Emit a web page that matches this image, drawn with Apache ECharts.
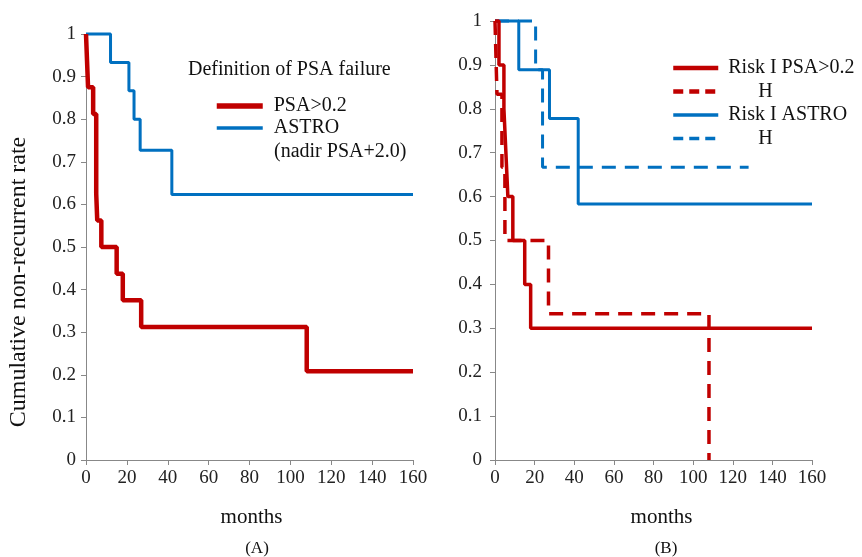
<!DOCTYPE html>
<html>
<head>
<meta charset="utf-8">
<script src="https://cdn.jsdelivr.net/npm/echarts@6/dist/echarts.min.js"></script>
<style>
html, body { margin: 0; padding: 0; background: #fff; }
#ct1 { width: 862px; height: 557px; }
</style>
</head>
<body>
<div id="ct1"></div>
<script>
// (A) definition of PSA failure
var monthsA_psa = [0, 0.5, 1, 3.5, 5, 5.5, 7.5, 15, 18, 27, 108, 160];
var rateA_psa = [1, 0.9375, 0.875, 0.8125, 0.625, 0.5625, 0.5, 0.4375, 0.375, 0.3125, 0.2083, 0.2083];
var monthsA_astro = [0, 12, 21, 23.5, 26.5, 42, 160];
var rateA_astro = [1, 0.933, 0.867, 0.8, 0.727, 0.623, 0.623];

// (B) by risk group
var monthsB_psaI = [0, 2, 4.5, 5.5, 6.5, 9, 15, 18, 160];
var rateB_psaI = [1, 0.9, 0.8, 0.7, 0.6, 0.5, 0.4, 0.3, 0.3];
var monthsB_psaH = [0, 1, 3.5, 5, 27, 108];
var rateB_psaH = [1, 0.833, 0.667, 0.5, 0.333, 0];
var monthsB_astroI = [0, 12, 27.5, 42, 160];
var rateB_astroI = [1, 0.889, 0.778, 0.583, 0.583];
var monthsB_astroH = [0, 20.5, 24, 128];
var rateB_astroH = [1, 0.889, 0.667, 0.667];

var xTicks = [0, 20, 40, 60, 80, 100, 120, 140, 160];

var RED = '#c00000';
var BLUE = '#0070c0';
var FONT = "'Liberation Serif', 'Times New Roman', serif";
var DASH = [14, 9];

function zip(xs, ys) {
	var out = [];
	for (var i = 0; i < xs.length; i++) {
		out.push([xs[i], ys[i]]);
	}
	return out;
}

function xAxisOf(grid, pad) {
	return {
		type: 'value', gridIndex: grid,
		min: xTicks[0], max: xTicks[xTicks.length - 1], interval: 20,
		name: 'months', nameLocation: 'middle', nameGap: 47,
		nameTextStyle: { fontFamily: FONT, fontSize: 21, color: '#111', padding: pad },
		axisLine: { lineStyle: { color: '#888', width: 1 } },
		axisTick: { show: true, length: 5, lineStyle: { color: '#888' } },
		axisLabel: { fontFamily: FONT, fontSize: 19, color: '#222', margin: 9 },
		splitLine: { show: false }
	};
}

function yAxisOf(grid, margin) {
	return {
		type: 'value', gridIndex: grid,
		min: 0, max: 1, interval: 0.1,
		axisLine: { show: true, lineStyle: { color: '#888', width: 1 } },
		axisTick: { show: true, length: 5, lineStyle: { color: '#888' } },
		axisLabel: {
			fontFamily: FONT, fontSize: 19, color: '#222', margin: margin,
			formatter: function (v) { return String(Math.round(v * 10) / 10); }
		},
		splitLine: { show: false }
	};
}

function km(name, grid, xs, ys, color, width, dashed) {
	return {
		name: name, type: 'line', step: 'end',
		xAxisIndex: grid, yAxisIndex: grid,
		symbol: 'none', clip: false, animation: false,
		lineStyle: { color: color, width: width, type: dashed ? DASH : 'solid' },
		itemStyle: { color: color },
		data: zip(xs, ys)
	};
}

var option1 = {
	backgroundColor: '#fff',
	animation: false,
	title: [
		{ text: '(A)', left: 252, top: 535, textAlign: 'center',
			textStyle: { fontFamily: FONT, fontSize: 17, fontWeight: 'normal', color: '#111' } },
		{ text: '(B)', left: 661, top: 535, textAlign: 'center',
			textStyle: { fontFamily: FONT, fontSize: 17, fontWeight: 'normal', color: '#111' } }
	],
	grid: [
		{ left: 86, top: 34, width: 327, height: 426 },
		{ left: 495, top: 21, width: 317, height: 439 }
	],
	xAxis: [xAxisOf(0, [0, 0, 0, 4]), xAxisOf(1, [0, 0, 0, 16])],
	yAxis: [yAxisOf(0, 10), yAxisOf(1, 13)],
	legend: [
		{
			left: 209, top: 90, orient: 'vertical', selectedMode: false,
			itemWidth: 46, itemHeight: 14, itemGap: 0,
			itemStyle: { opacity: 0 },
			textStyle: { fontFamily: FONT, fontSize: 20, color: '#111', lineHeight: 22, padding: [0, 0, 0, 6] },
			data: [
				{ name: 'PSA>0.2', lineStyle: { width: 5.5 } },
				{ name: 'ASTRO', lineStyle: { width: 3.5 } }
			]
		},
		{
			left: 666, top: 52, orient: 'vertical', selectedMode: false,
			itemWidth: 45, itemHeight: 14, itemGap: 1.5,
			itemStyle: { opacity: 0 },
			textStyle: { fontFamily: FONT, fontSize: 20, color: '#111', lineHeight: 22, padding: [0, 0, 0, 5] },
			formatter: function (name) {
				return name.indexOf('Risk H') === 0 ? '      H' : name;
			},
			data: [
				{ name: 'Risk I PSA>0.2', lineStyle: { width: 4.5 } },
				{ name: 'Risk H PSA>0.2', lineStyle: { width: 4.5, type: [10, 6] } },
				{ name: 'Risk I ASTRO', lineStyle: { width: 3.5 } },
				{ name: 'Risk H ASTRO', lineStyle: { width: 3.5, type: [10, 6] } }
			]
		}
	],
	graphic: [
		{ type: 'text', x: 19, y: 282, rotation: Math.PI / 2,
			style: { text: 'Cumulative non-recurrent rate', font: '24px ' + FONT, fill: '#111', align: 'center', verticalAlign: 'middle' } },
		{ type: 'text', x: 188, y: 70,
			style: { text: 'Definition of PSA failure', font: '20px ' + FONT, fill: '#111', align: 'left', verticalAlign: 'middle' } },
		{ type: 'text', x: 274, y: 152,
			style: { text: '(nadir PSA+2.0)', font: '20px ' + FONT, fill: '#111', align: 'left', verticalAlign: 'middle' } }
	],
	series: [
		km('ASTRO', 0, monthsA_astro, rateA_astro, BLUE, 3, false),
		km('PSA>0.2', 0, monthsA_psa, rateA_psa, RED, 4.5, false),
		km('Risk I ASTRO', 1, monthsB_astroI, rateB_astroI, BLUE, 3, false),
		km('Risk H ASTRO', 1, monthsB_astroH, rateB_astroH, BLUE, 3, true),
		km('Risk I PSA>0.2', 1, monthsB_psaI, rateB_psaI, RED, 3.5, false),
		km('Risk H PSA>0.2', 1, monthsB_psaH, rateB_psaH, RED, 3.5, true)
	]
};

var myChart1 = echarts.init(document.getElementById('ct1'));
myChart1.setOption(option1, true);
window.onresize = myChart1.resize;
</script>
</body>
</html>
